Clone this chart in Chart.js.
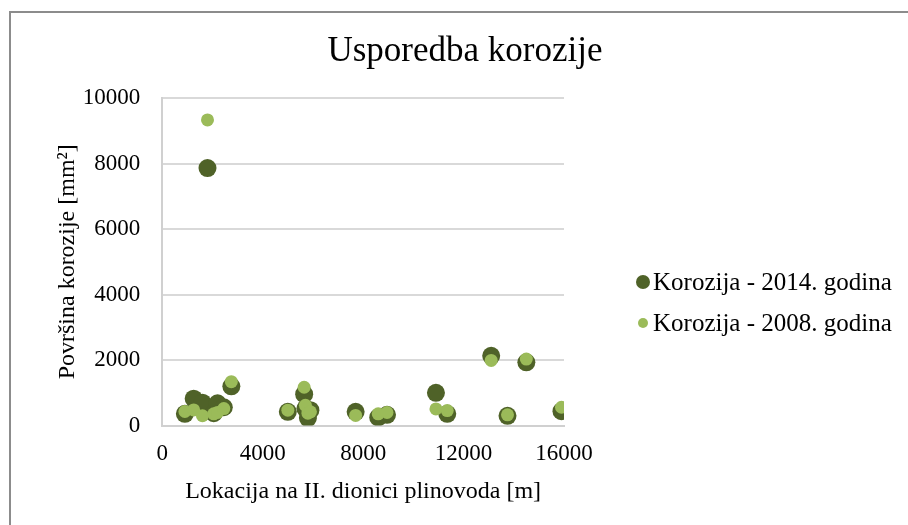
<!DOCTYPE html>
<html>
<head>
<meta charset="utf-8">
<title>Usporedba korozije</title>
<script src="https://cdn.jsdelivr.net/npm/chart.js@4.4.1/dist/chart.umd.min.js"></script>
<style>
    html, body { margin: 0; padding: 0; background: #fff; overflow: hidden; }
    #wrap { position: relative; width: 908px; height: 525px; }
    #frame {
        position: absolute; left: 9px; top: 11px;
        width: 1000px; height: 1000px;
        border: 2px solid #8c8c8c;
        pointer-events: none;
    }
    #chartTitle {
        position: absolute; left: 0; top: 30px; width: 930px;
        text-align: center;
        font-family: 'Liberation Serif', 'Times New Roman', serif;
        font-size: 35px; line-height: 40px; color: #000;
    }
    #legend {
        position: absolute; left: 634px; top: 261px;
        font-family: 'Liberation Serif', 'Times New Roman', serif;
        font-size: 25px; color: #000;
    }
    .legend-row { display: flex; align-items: center; height: 41px; white-space: nowrap; }
    .legend-mark { width: 18px; display: flex; justify-content: center; align-items: center; margin-right: 1px; }
    .legend-mark span { display: block; border-radius: 50%; }
</style>
</head>
<body>
<div id="wrap">
    <canvas id="corrosionChart" width="908" height="525"></canvas>
    <div id="chartTitle">Usporedba korozije</div>
    <div id="legend"></div>
    <div id="frame"></div>
</div>
<script>
// Lokacija [m] i povrsina korozije [mm2] - ocitano s grafa
const locations2014 = [900, 1250, 1600, 1800, 2050, 2200, 2450, 2750, 5000, 5650, 5700, 5800, 5900, 7700, 8600, 8950, 10900, 11350, 13100, 13750, 14500, 15900];
const area2014      = [360, 820, 700, 7860, 380, 680, 560, 1200, 420, 960, 520, 230, 470, 420, 250, 330, 1000, 360, 2130, 300, 1930, 440];

const locations2008 = [900, 1250, 1600, 1800, 2050, 2200, 2450, 2750, 5000, 5650, 5700, 5800, 5900, 7700, 8600, 8950, 10900, 11350, 13100, 13750, 14500, 15900];
const area2008      = [430, 480, 300, 9330, 360, 400, 520, 1340, 470, 1170, 620, 380, 420, 310, 360, 400, 510, 460, 1990, 330, 2030, 560];

const xTicks = [0, 4000, 8000, 12000, 16000];
const yTicks = [0, 2000, 4000, 6000, 8000, 10000];

const darkGreen = '#4f6228';
const lightGreen = '#9bbb59';
const serif = "'Liberation Serif', 'Times New Roman', serif";

function toPoints(xs, ys) {
    return xs.map((x, i) => ({ x: x, y: ys[i] }));
}

const series = [
    { label: 'Korozija - 2014. godina', xs: locations2014, ys: area2014, color: darkGreen, radius: 9, legendSize: 14 },
    { label: 'Korozija - 2008. godina', xs: locations2008, ys: area2008, color: lightGreen, radius: 6.5, legendSize: 10 }
];

// HTML legend (dots have different sizes, like the original)
function buildLegend() {
    const legend = document.getElementById('legend');
    series.forEach(s => {
        const row = document.createElement('div');
        row.className = 'legend-row';
        row.innerHTML = `
            <div class="legend-mark"><span style="width:${s.legendSize}px;height:${s.legendSize}px;background:${s.color}"></span></div>
            <div>${s.label}</div>`;
        legend.appendChild(row);
    });
}

new Chart(document.getElementById('corrosionChart'), {
    type: 'scatter',
    data: {
        datasets: series.map((s, i) => ({
            label: s.label,
            data: toPoints(s.xs, s.ys),
            backgroundColor: s.color,
            borderWidth: 0,
            pointRadius: s.radius,
            order: 1 - i   // 2008 drawn on top of 2014
        }))
    },
    options: {
        responsive: false,
        animation: false,
        layout: {
            padding: { left: 49, right: 344, top: 98, bottom: 15 }
        },
        plugins: {
            title: { display: false },
            legend: { display: false },
            tooltip: { enabled: false }
        },
        scales: {
            x: {
                type: 'linear',
                min: xTicks[0],
                max: xTicks[xTicks.length - 1],
                afterBuildTicks: (scale) => { scale.ticks = xTicks.map(v => ({ value: v })); },
                ticks: {
                    padding: 15,
                    color: '#000',
                    font: { family: serif, size: 23 },
                    callback: (v) => v
                },
                grid: { color: 'rgba(0,0,0,0)', drawTicks: false },
                border: { color: '#d0d0d0', width: 2 },
                title: {
                    display: true,
                    text: 'Lokacija na II. dionici plinovoda [m]',
                    color: '#000',
                    font: { family: serif, size: 24 },
                    padding: { top: -6, bottom: 4 }
                }
            },
            y: {
                min: yTicks[0],
                max: yTicks[yTicks.length - 1],
                afterBuildTicks: (scale) => { scale.ticks = yTicks.map(v => ({ value: v })); },
                ticks: {
                    padding: 22,
                    color: '#000',
                    font: { family: serif, size: 23 },
                    callback: (v) => v
                },
                grid: { color: '#d9d9d9', lineWidth: 2, drawTicks: false },
                border: { color: '#d0d0d0', width: 2 },
                title: {
                    display: true,
                    text: 'Površina korozije [mm²]',
                    color: '#000',
                    font: { family: serif, size: 24 },
                    padding: { top: 4, bottom: -21 }
                }
            }
        }
    }
});

buildLegend();
</script>
</body>
</html>
